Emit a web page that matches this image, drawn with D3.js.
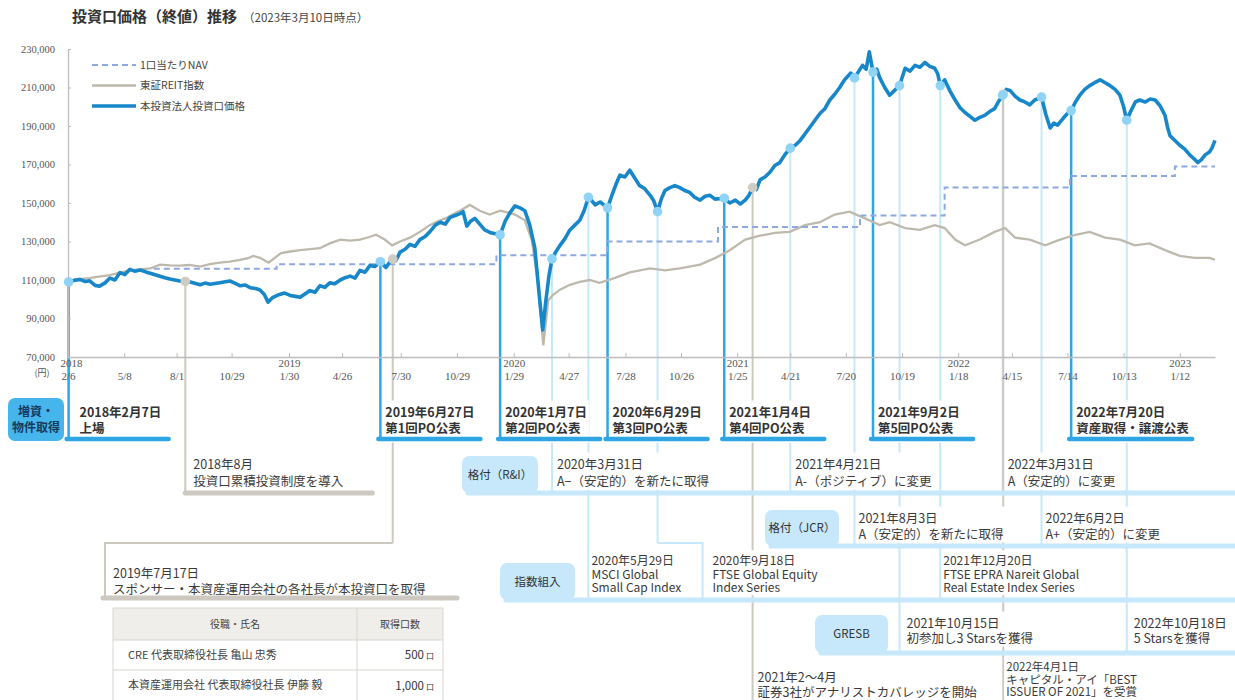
<!DOCTYPE html>
<html>
<head>
<meta charset="utf-8">
<script src="https://cdn.jsdelivr.net/npm/d3@7"></script>
<style>
  body { margin: 0; background: #fff; }
  svg { font-family: "Noto Sans CJK JP", "Noto Sans", sans-serif; }
  .num { font-family: "Liberation Serif", "DejaVu Serif", serif; }
</style>
</head>
<body>
<svg id="chart" width="1235" height="700"></svg>
<script>
// ---- data ----
const yTicks = [70000, 90000, 110000, 130000, 150000, 170000, 190000, 210000, 230000];
const xTickDates = ["2018-02-06","2018-05-08","2018-08-01","2018-10-29","2019-01-30","2019-04-26","2019-07-30",
  "2019-10-29","2020-01-29","2020-04-27","2020-07-28","2020-10-26","2021-01-25","2021-04-21","2021-07-20",
  "2021-10-19","2022-01-18","2022-04-15","2022-07-14","2022-10-13","2023-01-12"];
const yearTicks = ["2018-02-06","2019-01-30","2020-01-29","2021-01-25","2022-01-18","2023-01-12"];

// 本投資法人投資口価格
const priceSeries = [
  ["2018-02-07",109000],["2018-02-16",109800],["2018-02-25",110300],["2018-03-06",109200],["2018-03-13",109600],
  ["2018-03-22",107200],["2018-03-29",106800],["2018-04-07",108500],["2018-04-15",111000],["2018-04-23",110000],
  ["2018-05-01",113800],["2018-05-09",112800],["2018-05-17",115500],["2018-05-25",114600],["2018-06-03",115200],
  ["2018-06-12",114200],["2018-06-19",113500],["2018-07-05",112000],["2018-07-13",111200],["2018-07-21",110500],
  ["2018-08-06",109500],["2018-08-23",109000],["2018-09-08",107500],["2018-09-16",108400],["2018-09-24",107800],
  ["2018-10-10",108600],["2018-10-26",109500],["2018-11-04",108200],["2018-11-12",107000],["2018-11-20",107400],
  ["2018-11-28",106000],["2018-12-07",105600],["2018-12-14",104800],["2018-12-21",102500],["2018-12-27",98500],
  ["2019-01-04",101000],["2019-01-12",102200],["2019-01-23",103200],["2019-02-01",102000],["2019-02-09",101500],
  ["2019-02-17",101000],["2019-02-26",103000],["2019-03-05",104500],["2019-03-13",103600],["2019-03-21",107000],
  ["2019-03-29",106200],["2019-04-06",108500],["2019-04-14",108000],["2019-04-23",110000],["2019-05-01",111200],
  ["2019-05-09",112000],["2019-05-17",111000],["2019-05-25",115000],["2019-06-02",114000],["2019-06-10",117500],
  ["2019-06-18",117000],["2019-06-27",119500],["2019-07-06",116500],["2019-07-16",121000],["2019-07-22",120000],
  ["2019-07-29",124500],["2019-08-06",126000],["2019-08-14",128500],["2019-08-22",127500],["2019-08-30",131000],
  ["2019-09-07",132500],["2019-09-15",135000],["2019-09-24",138500],["2019-10-02",140000],["2019-10-10",139000],
  ["2019-10-18",142500],["2019-10-26",143500],["2019-11-03",144500],["2019-11-08",145500],["2019-11-14",138000],
  ["2019-11-20",140500],["2019-11-27",142000],["2019-12-05",139000],["2019-12-13",136000],["2019-12-23",134500],
  ["2020-01-07",133500],["2020-01-15",140500],["2020-01-23",145000],["2020-01-31",148500],["2020-02-08",147500],
  ["2020-02-16",146000],["2020-02-24",138500],["2020-03-03",127000],["2020-03-11",100000],["2020-03-16",84000],
  ["2020-03-21",99000],["2020-03-26",112000],["2020-03-31",121000],["2020-04-06",124500],["2020-04-13",128000],
  ["2020-04-21",131500],["2020-04-29",136000],["2020-05-07",138500],["2020-05-15",141000],["2020-05-22",146000],
  ["2020-05-29",153000],["2020-06-04",151000],["2020-06-09",149000],["2020-06-17",150500],["2020-06-29",147500],
  ["2020-07-06",154000],["2020-07-13",160000],["2020-07-19",164500],["2020-07-27",163500],["2020-08-04",167000],
  ["2020-08-12",163000],["2020-08-20",159000],["2020-08-28",157500],["2020-09-06",154000],["2020-09-12",151000],
  ["2020-09-18",145500],["2020-09-24",152000],["2020-09-30",156500],["2020-10-08",158000],["2020-10-16",159000],
  ["2020-10-24",158000],["2020-11-01",156500],["2020-11-09",155500],["2020-11-17",153000],["2020-11-26",151500],
  ["2020-12-04",153500],["2020-12-12",154000],["2020-12-20",152000],["2021-01-04",152500],["2021-01-13",150000],
  ["2021-01-22",151500],["2021-01-30",149500],["2021-02-07",151500],["2021-02-13",154000],["2021-02-19",158000],
  ["2021-02-25",157000],["2021-03-03",162000],["2021-03-11",163500],["2021-03-19",166000],["2021-03-27",169500],
  ["2021-04-04",171000],["2021-04-12",175000],["2021-04-21",178500],["2021-04-29",180000],["2021-05-07",182500],
  ["2021-05-15",186000],["2021-05-23",189500],["2021-05-31",193000],["2021-06-08",196500],["2021-06-16",199000],
  ["2021-06-24",203500],["2021-07-02",206500],["2021-07-10",210000],["2021-07-18",214000],["2021-07-28",217500],
  ["2021-08-03",215000],["2021-08-10",218500],["2021-08-16",221500],["2021-08-22",219500],["2021-08-27",228500],
  ["2021-09-02",218000],["2021-09-08",219500],["2021-09-13",215000],["2021-09-21",210000],["2021-09-29",206000],
  ["2021-10-07",208500],["2021-10-15",211000],["2021-10-20",216000],["2021-10-24",220000],["2021-11-01",218500],
  ["2021-11-09",221500],["2021-11-17",220500],["2021-11-25",223000],["2021-12-03",221000],["2021-12-11",220000],
  ["2021-12-16",217000],["2021-12-20",211000],["2021-12-27",214000],["2022-01-05",208000],["2022-01-13",203500],
  ["2022-01-21",199500],["2022-01-29",197000],["2022-02-06",195000],["2022-02-14",193000],["2022-02-22",194500],
  ["2022-03-02",195500],["2022-03-10",197500],["2022-03-18",199000],["2022-03-25",203000],["2022-03-31",206000],
  ["2022-04-06",209000],["2022-04-12",208500],["2022-04-20",205500],["2022-04-28",203500],["2022-05-06",202500],
  ["2022-05-14",201000],["2022-05-22",203500],["2022-06-02",205000],["2022-06-09",196000],["2022-06-16",189000],
  ["2022-06-22",191500],["2022-06-28",190500],["2022-07-07",194000],["2022-07-14",196500],["2022-07-20",198000],
  ["2022-07-27",202500],["2022-08-03",206000],["2022-08-11",209000],["2022-08-19",211000],["2022-08-27",212500],
  ["2022-09-05",214000],["2022-09-13",212500],["2022-09-21",211000],["2022-09-29",209000],["2022-10-07",206000],
  ["2022-10-13",200000],["2022-10-18",193000],["2022-10-25",198000],["2022-11-01",202500],["2022-11-08",203500],
  ["2022-11-17",202500],["2022-11-25",204000],["2022-12-03",203500],["2022-12-11",200500],["2022-12-19",195500],
  ["2022-12-23",189500],["2022-12-27",185000],["2023-01-04",182500],["2023-01-12",180000],["2023-01-20",178000],
  ["2023-01-28",175000],["2023-02-04",173000],["2023-02-10",171000],["2023-02-16",172500],["2023-02-22",175000],
  ["2023-03-01",176500],["2023-03-05",178500],["2023-03-10",182500]
];

// 東証REIT指数 (rebased)
const reitSeries = [
  ["2018-02-07",109000],["2018-02-22",110500],["2018-03-13",111000],["2018-03-28",111800],["2018-04-15",112500],
  ["2018-05-01",113800],["2018-05-17",115000],["2018-06-03",115500],["2018-06-19",116000],["2018-07-05",118000],
  ["2018-07-21",117600],["2018-08-06",117500],["2018-08-22",117800],["2018-09-08",117000],["2018-09-24",118200],
  ["2018-10-10",119000],["2018-10-26",119600],["2018-11-12",120500],["2018-11-26",121500],["2018-12-03",122500],
  ["2018-12-14",121500],["2018-12-28",119000],["2019-01-17",124000],["2019-02-01",124800],["2019-02-17",125500],
  ["2019-03-05",126000],["2019-03-21",126500],["2019-04-06",129000],["2019-04-23",131000],["2019-05-09",130500],
  ["2019-05-25",131000],["2019-06-08",132200],["2019-06-20",133500],["2019-07-04",131000],["2019-07-16",128000],
  ["2019-07-29",130000],["2019-08-14",132000],["2019-08-30",135000],["2019-09-15",138500],["2019-09-28",140500],
  ["2019-10-10",142000],["2019-10-22",144000],["2019-11-03",146000],["2019-11-19",149000],["2019-12-05",146000],
  ["2019-12-21",144000],["2020-01-07",146000],["2020-01-20",145000],["2020-01-31",144000],["2020-02-16",141000],
  ["2020-02-27",131000],["2020-03-08",110000],["2020-03-17",76000],["2020-03-25",99500],["2020-04-01",102000],
  ["2020-04-13",105000],["2020-04-29",107500],["2020-05-15",109000],["2020-05-31",110000],["2020-06-16",108500],
  ["2020-07-10",111000],["2020-08-04",114000],["2020-09-06",116000],["2020-09-30",115000],["2020-10-24",116000],
  ["2020-11-26",118000],["2020-12-21",121500],["2021-01-13",125500],["2021-02-07",131000],["2021-03-03",133000],
  ["2021-03-27",134500],["2021-04-20",135000],["2021-05-15",138500],["2021-06-08",140000],["2021-07-02",144000],
  ["2021-07-26",145500],["2021-08-20",142000],["2021-09-13",138500],["2021-09-29",140000],["2021-10-24",137000],
  ["2021-11-17",136000],["2021-12-11",138500],["2021-12-27",137000],["2022-01-13",131000],["2022-01-29",128000],
  ["2022-02-22",131000],["2022-03-18",135000],["2022-04-04",137000],["2022-04-20",132000],["2022-05-14",131000],
  ["2022-06-08",128000],["2022-07-02",131000],["2022-07-27",133500],["2022-08-19",135000],["2022-09-13",132000],
  ["2022-10-07",131000],["2022-10-31",128000],["2022-11-24",129000],["2022-12-19",125500],["2023-01-12",122500],
  ["2023-02-05",121500],["2023-03-01",121500],["2023-03-10",120500]
];

// 1口当たりNAV (step)
const navSeries = [
  ["2018-06-25",115800],["2019-01-10",118200],["2020-01-01",122800],["2020-06-28",130000],["2020-12-25",137500],
  ["2021-08-12",143500],["2021-12-27",158000],["2022-07-18",164000],["2023-01-04",169000],["2023-03-10",169000]
];

const legendItems = ["1口当たりNAV", "東証REIT指数", "本投資法人投資口価格"];

const poEvents = [
  {date:"2018-02-07", lines:["2018年2月7日","上場"]},
  {date:"2019-06-27", lines:["2019年6月27日","第1回PO公表"]},
  {date:"2020-01-07", lines:["2020年1月7日","第2回PO公表"]},
  {date:"2020-06-29", lines:["2020年6月29日","第3回PO公表"]},
  {date:"2021-01-04", lines:["2021年1月4日","第4回PO公表"]},
  {date:"2021-09-02", lines:["2021年9月2日","第5回PO公表"]},
  {date:"2022-07-20", lines:["2022年7月20日","資産取得・譲渡公表"]}
];
const riEvents = [
  {date:"2020-03-31", lines:["2020年3月31日","A−（安定的）を新たに取得"]},
  {date:"2021-04-21", lines:["2021年4月21日","A-（ポジティブ）に変更"]},
  {date:"2022-03-31", lines:["2022年3月31日","A（安定的）に変更"]}
];
const jcrEvents = [
  {date:"2021-08-03", lines:["2021年8月3日","A（安定的）を新たに取得"]},
  {date:"2022-06-02", lines:["2022年6月2日","A+（安定的）に変更"]}
];
const indexEvents = [
  {date:"2020-05-29", lines:["2020年5月29日","MSCI Global","Small Cap Index"]},
  {date:"2020-09-18", lines:["2020年9月18日","FTSE Global Equity","Index  Series"]},
  {date:"2021-12-20", lines:["2021年12月20日","FTSE EPRA Nareit Global","Real Estate Index Series"]}
];
const gresbEvents = [
  {date:"2021-10-15", lines:["2021年10月15日","初参加し3 Starsを獲得"]},
  {date:"2022-10-18", lines:["2022年10月18日","5 Starsを獲得"]}
];
const otherEvents = [
  {date:"2018-08-15", lines:["2018年8月","投資口累積投資制度を導入"]},
  {date:"2019-07-17", lines:["2019年7月17日","スポンサー・本資産運用会社の各社長が本投資口を取得"]},
  {date:"2021-02-19", lines:["2021年2〜4月","証券3社がアナリストカバレッジを開始"]},
  {date:"2022-04-01", lines:["2022年4月1日","キャピタル・アイ「BEST","ISSUER OF 2021」を受賞"]}
];

const tableHeader = ["役職・氏名", "取得口数"];
const tableNames = ["CRE 代表取締役社長 亀山 忠秀", "本資産運用会社 代表取締役社長 伊藤 毅"];
const tableUnits = ["500", "1,000"];

// ---- setup ----
const parse = d3.timeParse("%Y-%m-%d");
const svg = d3.select("#chart");
const TEXT = "#3a3a3a", BLUE = "#1787c9", PO = "#2ea6e4", LIGHT = "#c6e8fa", GRAY = "#cdc9c0";

const toPts = s => s.map(d => ({date: parse(d[0]), value: d[1]}));
const price = toPts(priceSeries), reit = toPts(reitSeries), nav = toPts(navSeries);

const x = d3.scaleTime().domain([parse("2018-02-06"), parse("2023-03-10")]).range([68, 1215]);
const y = d3.scaleLinear().domain([70000, 230000]).range([357, 49]);

const bis = d3.bisector(d => d.date).left;
function priceAt(ds) {
  const t = parse(ds);
  const i = Math.max(1, Math.min(price.length - 1, bis(price, t)));
  const a = price[i - 1], b = price[i];
  const k = (t - a.date) / (b.date - a.date);
  return a.value + (b.value - a.value) * Math.max(0, Math.min(1, k));
}

// layers: leaders under text, text (with white backing) under bars
const lead = svg.append("g");
const txt = svg.append("g");
const low = svg.append("g");

function addText(g, x0, yc, lines, lh, size, weight, fill, anchor) {
  const t = g.append("text").attr("x", x0).attr("text-anchor", anchor || "start")
    .style("font-size", size + "px").style("font-weight", weight || 400).attr("fill", fill || TEXT);
  lines.forEach((s, i) => t.append("tspan").attr("x", x0).attr("y", yc + i * lh).attr("dy", "0.36em").text(s));
  return t;
}
// event text with a white backing so leaders pass behind it
function eventText(x0, yc, lines, lh, size, weight, padBottom) {
  const t = addText(txt, x0, yc, lines, lh, size, weight, weight === 700 ? "#333" : TEXT);
  const b = t.node().getBBox();
  txt.insert("rect", () => t.node()).attr("x", b.x - 2).attr("y", b.y - 1)
    .attr("width", b.width + 4).attr("height", b.height + 1 + (padBottom || 0)).attr("fill", "#fff");
  return b;
}

// title
svg.append("text").attr("x", 72).attr("y", 17).attr("dy", "0.36em")
  .style("font-size", "15px").style("font-weight", 700).attr("fill", "#333").text("投資口価格（終値）推移");
svg.append("text").attr("x", 243).attr("y", 18).attr("dy", "0.36em")
  .style("font-size", "11.5px").attr("fill", "#444").text("（2023年3月10日時点）");

// axes
const yAxis = svg.append("g").attr("transform", "translate(68,0)")
  .call(d3.axisLeft(y).tickValues(yTicks).tickSize(-3).tickSizeOuter(0).tickPadding(13).tickFormat(d3.format(",")));
const xAxis = svg.append("g").attr("transform", "translate(0,357)")
  .call(d3.axisBottom(x).tickValues(xTickDates.map(parse)).tickSize(-4).tickSizeOuter(0).tickFormat(""));
[yAxis, xAxis].forEach(a => {
  a.select(".domain").attr("stroke", "#bdbdbd").attr("stroke-width", 1.3);
  a.selectAll(".tick line").attr("stroke", "#bdbdbd");
});
yAxis.selectAll("text").attr("class", "num").attr("fill", "#555").style("font-size", "10.5px");
xAxis.selectAll(".tick").each(function(d, i) {
  const g = d3.select(this);
  const ds = xTickDates[i];
  g.append("text").attr("class", "num").attr("y", 19).attr("dy", "0.36em").attr("text-anchor", "middle")
    .attr("fill", "#555").style("font-size", "11px").text((d.getMonth() + 1) + "/" + d.getDate());
  if (yearTicks.includes(ds)) {
    g.append("text").attr("class", "num").attr("x", ds === "2018-02-06" ? 3 : 0).attr("y", 6).attr("dy", "0.36em")
      .attr("text-anchor", "middle").attr("fill", "#555").style("font-size", "11px").text(d.getFullYear());
  }
});
svg.append("text").attr("x", 42).attr("y", 373).attr("dy", "0.36em").attr("text-anchor", "middle")
  .attr("fill", "#555").style("font-size", "9px").text("(円)");

// ---- lower timeline ----
function vline(ds, y2, color, w) {
  const xe = x(parse(ds));
  lead.append("line").attr("x1", xe).attr("x2", xe).attr("y1", y(priceAt(ds))).attr("y2", y2)
    .attr("stroke", color).attr("stroke-width", w);
}
function bar(x1, x2, yb, color, w) {
  low.append("line").attr("x1", x1).attr("x2", x2).attr("y1", yb).attr("y2", yb)
    .attr("stroke", color).attr("stroke-width", w).attr("stroke-linecap", "round");
}
function labelBox(x0, y0, w, h, fill, lines, bold, color) {
  low.append("rect").attr("x", x0).attr("y", y0).attr("width", w).attr("height", h).attr("rx", 7).attr("fill", fill);
  const lh = 16;
  addText(low, x0 + w / 2, y0 + h / 2 - (lines.length - 1) * lh / 2, lines, lh, bold ? 12 : 11.5, bold ? 700 : 400, color || "#333", "middle");
}

// 増資・物件取得 row
labelBox(8, 398, 56, 43, "#45b5ec", ["増資・", "物件取得"], true, "#173a5e");
poEvents.forEach((e, i) => {
  const xe = x(parse(e.date));
  vline(e.date, 439, PO, 2.5);
  const b = eventText(xe + (i === 0 ? 11 : 5), 412, e.lines, 16, 12.5, 700, 6);
  bar(xe - 2, xe + Math.max(100, b.width + (i === 0 ? 12 : 8)), 439, PO, 4.5);
});

// 格付(R&I) row
riEvents.forEach(e => vline(e.date, 493, LIGHT, 2));
bar(468, 1240, 493, LIGHT, 5);
labelBox(462, 456, 76, 37, LIGHT, ["格付（R&I）"]);
riEvents.forEach(e => eventText(x(parse(e.date)) + 5, 464, e.lines, 17, 12.5, 400));

// 格付(JCR) row
jcrEvents.forEach(e => vline(e.date, 546, LIGHT, 2));
bar(771, 1240, 546, LIGHT, 5);
labelBox(765, 510, 74, 36, LIGHT, ["格付（JCR）"]);
jcrEvents.forEach(e => eventText(x(parse(e.date)) + 4, 518, e.lines, 16, 12.5, 400));

// 指数組入 row (FTSE Global Equity leader bends to the right)
const bendShift = {"2020-09-18": {bendY: 543, dx: 45}};
indexEvents.forEach(e => {
  const b = bendShift[e.date];
  if (b) {
    const xe = x(parse(e.date));
    vline(e.date, b.bendY, LIGHT, 2);
    lead.append("path").attr("d", `M${xe},${b.bendY}H${xe + b.dx}V600`).attr("fill", "none")
      .attr("stroke", LIGHT).attr("stroke-width", 2);
  } else vline(e.date, 600, LIGHT, 2);
});
bar(506, 1240, 600, LIGHT, 5);
labelBox(500, 563, 75, 37, LIGHT, ["指数組入"]);
indexEvents.forEach(e => {
  const b = bendShift[e.date];
  eventText(x(parse(e.date)) + (b ? b.dx + 10 : 3), 561, e.lines, 13.5, 12, 400);
});

// GRESB row
gresbEvents.forEach(e => vline(e.date, 653, LIGHT, 2));
bar(821, 1240, 653, LIGHT, 5);
labelBox(815, 615, 73, 38, LIGHT, ["GRESB"]);
gresbEvents.forEach(e => eventText(x(parse(e.date)) + 7, 623, e.lines, 15, 12.5, 400));

// gray events
{
  const [e0, e1, e2, e3] = otherEvents;
  const x0 = x(parse(e0.date));
  vline(e0.date, 493, GRAY, 2);
  bar(x0, x0 + 187, 493, GRAY, 5);
  eventText(x0 + 8, 464, e0.lines, 17, 12.5, 400);

  const x1 = x(parse(e1.date));
  vline(e1.date, 543, GRAY, 2);
  lead.append("path").attr("d", `M${x1},543H105V597`).attr("fill", "none").attr("stroke", GRAY).attr("stroke-width", 2);
  bar(103, 457, 598, GRAY, 5);
  eventText(113, 573, e1.lines, 16, 12.5, 400);

  const x2 = x(parse(e2.date));
  vline(e2.date, 700, GRAY, 2);
  eventText(x2 + 5, 677, e2.lines, 15, 12.5, 400);

  const x3 = x(parse(e3.date));
  vline(e3.date, 700, GRAY, 2);
  eventText(x3 + 3, 667, e3.lines, 12.5, 11.5, 400);
}

// table
{
  const tg = svg.append("g");
  const tx = 113, tw = 330, cx = 357, ty = 608, rh = [32, 30, 31];
  tg.append("rect").attr("x", tx).attr("y", ty).attr("width", tw).attr("height", rh[0]).attr("fill", "#efeeeb");
  let yy = ty;
  const ys = [ty];
  rh.forEach(h => { yy += h; ys.push(yy); });
  ys.forEach(v => tg.append("line").attr("x1", tx).attr("x2", tx + tw).attr("y1", v).attr("y2", v).attr("stroke", "#d9d6cf"));
  [tx, cx, tx + tw].forEach(v => tg.append("line").attr("x1", v).attr("x2", v).attr("y1", ty).attr("y2", yy).attr("stroke", "#d9d6cf"));
  addText(tg, (tx + cx) / 2, ty + rh[0] / 2, [tableHeader[0]], 0, 10, 400, "#444", "middle");
  addText(tg, (cx + tx + tw) / 2, ty + rh[0] / 2, [tableHeader[1]], 0, 10, 400, "#444", "middle");
  tableNames.forEach((n, i) => {
    const yc = (ys[i + 1] + ys[i + 2]) / 2;
    addText(tg, tx + 15, yc, [n], 0, 11, 400, "#444");
    const t = tg.append("text").attr("x", tx + tw - 9).attr("y", yc).attr("dy", "0.36em").attr("text-anchor", "end")
      .attr("fill", "#333").style("font-size", "11.5px");
    t.append("tspan").text(tableUnits[i]);
    t.append("tspan").style("font-size", "8px").attr("dx", 2).text("口");
  });
}

// ---- series ----
const line = d3.line().x(d => x(d.date)).y(d => y(d.value));
svg.append("path").datum(reit).attr("d", line).attr("fill", "none").attr("stroke", "#bdb9ad").attr("stroke-width", 2.3);
svg.append("path").datum(nav).attr("d", line.curve(d3.curveStepAfter)).attr("fill", "none")
  .attr("stroke", "#8ea8e2").attr("stroke-width", 2).attr("stroke-dasharray", "6,4");
line.curve(d3.curveLinear);
svg.append("path").datum(price).attr("d", line).attr("fill", "none").attr("stroke", BLUE)
  .attr("stroke-width", 3.6).attr("stroke-linejoin", "round");

// markers on price line (gray first so blue ones stay on top)
const blueMarks = [].concat(poEvents, riEvents, jcrEvents, indexEvents, gresbEvents);
svg.append("g").selectAll("circle").data(otherEvents).join("circle")
  .attr("cx", d => x(parse(d.date))).attr("cy", d => y(priceAt(d.date))).attr("r", 4.8).attr("fill", "#cfccc4");
svg.append("g").selectAll("circle").data(blueMarks).join("circle")
  .attr("cx", d => x(parse(d.date))).attr("cy", d => y(priceAt(d.date))).attr("r", 4.8).attr("fill", "#8fd4f6");

// legend
const lg = svg.append("g");
const lstyles = [
  {c: "#8ea8e2", w: 2, dash: "6,4"},
  {c: "#bdb9ad", w: 2.3, dash: null},
  {c: BLUE, w: 3.6, dash: null}
];
legendItems.forEach((s, i) => {
  const ly = 65 + i * 20.5;
  lg.append("line").attr("x1", 92).attr("x2", 136).attr("y1", ly).attr("y2", ly)
    .attr("stroke", lstyles[i].c).attr("stroke-width", lstyles[i].w).attr("stroke-dasharray", lstyles[i].dash);
  lg.append("text").attr("x", 140).attr("y", ly).attr("dy", "0.36em").attr("fill", "#444")
    .style("font-size", "10.5px").text(s);
});
</script>
</body>
</html>
